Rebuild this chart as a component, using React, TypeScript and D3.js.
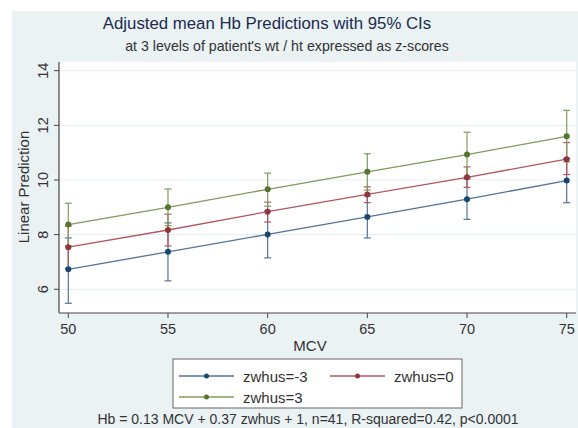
import React from "react";
import * as d3 from "d3";

const mcv = [50, 55, 60, 65, 70, 75];
const seriesNames = ["zwhus=-3", "zwhus=0", "zwhus=3"];
const meanNeg3 = [6.73, 7.37, 8.01, 8.65, 9.3, 9.98];
const lowNeg3 = [5.49, 6.31, 7.15, 7.88, 8.56, 9.17];
const highNeg3 = [7.88, 8.43, 8.87, 9.42, 10.04, 10.79];
const mean0 = [7.54, 8.17, 8.84, 9.47, 10.1, 10.76];
const low0 = [6.76, 7.59, 8.46, 9.17, 9.73, 10.2];
const high0 = [8.32, 8.75, 9.19, 9.75, 10.48, 11.37];
const mean3 = [8.37, 9.0, 9.66, 10.3, 10.93, 11.6];
const low3 = [7.59, 8.33, 9.04, 9.63, 10.1, 10.66];
const high3 = [9.15, 9.67, 10.25, 10.96, 11.75, 12.55];
const yTicks = [6, 8, 10, 12, 14];
const xTicks = [50, 55, 60, 65, 70, 75];

const markerColors = ["#1a476f", "#90353b", "#55752f"];
const lineColors = ["#52749a", "#b0585e", "#7f9c5e"];

const W = 578;
const H = 428;
const font = "'Liberation Sans', Arial, sans-serif";

export default function App() {
  const left = 59, right = 576, top = 62, bottom = 313;
  const x = d3.scaleLinear().domain([50, 75]).range([68.3, 566.7]);
  const y = d3.scaleLinear().domain([6, 14]).range([289.3, 70.7]);
  const series = [
    { mean: meanNeg3, low: lowNeg3, high: highNeg3 },
    { mean: mean0, low: low0, high: high0 },
    { mean: mean3, low: low3, high: high3 },
  ];
  const line = d3
    .line<number>()
    .x((_, i) => x(mcv[i]))
    .y((d) => y(d));

  return (
    <svg
      width={W}
      height={H}
      style={{ position: "absolute", left: 0, top: 0, display: "block" }}
      fontFamily={font}
    >
      <rect x={0} y={0} width={W} height={H} fill="#ffffff" />
      <rect x={12} y={11} width={W - 12} height={H - 11} fill="#eaf2f3" />
      <text x={267} y={29} textAnchor="middle" fontSize={16.8} fill="#1c2b4f">
        Adjusted mean Hb Predictions with 95% CIs
      </text>
      <text x={287} y={51} textAnchor="middle" fontSize={14.2} fill="#333333">
        at 3 levels of patient's wt / ht expressed as z-scores
      </text>
      <rect x={left} y={top} width={right - left} height={bottom - top} fill="#ffffff" />
      {yTicks.map((t) => (
        <g key={t}>
          <line x1={left} x2={right} y1={y(t)} y2={y(t)} stroke="#e6eff1" strokeWidth={1.2} />
          <line x1={left - 5} x2={left} y1={y(t)} y2={y(t)} stroke="#444" strokeWidth={1} />
          <text
            transform={`translate(${left - 11},${y(t)}) rotate(-90)`}
            textAnchor="middle"
            fontSize={14.5}
            fill="#333"
          >
            {t}
          </text>
        </g>
      ))}
      <line x1={left} x2={left} y1={top} y2={bottom} stroke="#444" strokeWidth={1.2} />
      <line x1={left} x2={right} y1={bottom} y2={bottom} stroke="#444" strokeWidth={1.2} />
      {xTicks.map((t) => (
        <g key={t}>
          <line x1={x(t)} x2={x(t)} y1={bottom} y2={bottom + 5} stroke="#444" strokeWidth={1} />
          <text x={x(t)} y={bottom + 21} textAnchor="middle" fontSize={14.5} fill="#333">
            {t}
          </text>
        </g>
      ))}
      <text x={310} y={351} textAnchor="middle" fontSize={15} fill="#333">
        MCV
      </text>
      <text
        transform={`translate(29,187) rotate(-90)`}
        textAnchor="middle"
        fontSize={15}
        fill="#333"
      >
        Linear Prediction
      </text>
      {series.map((s, si) => (
        <g key={si}>
          {s.mean.map((m, i) => (
            <g key={i} stroke={lineColors[si]} strokeWidth={1.2}>
              <line x1={x(mcv[i])} x2={x(mcv[i])} y1={y(s.low[i])} y2={y(s.high[i])} />
              <line x1={x(mcv[i]) - 3.5} x2={x(mcv[i]) + 3.5} y1={y(s.low[i])} y2={y(s.low[i])} />
              <line x1={x(mcv[i]) - 3.5} x2={x(mcv[i]) + 3.5} y1={y(s.high[i])} y2={y(s.high[i])} />
            </g>
          ))}
        </g>
      ))}
      {series.map((s, si) => (
        <g key={si}>
          <path d={line(s.mean) || ""} fill="none" stroke={lineColors[si]} strokeWidth={1.3} />
          {s.mean.map((m, i) => (
            <circle key={i} cx={x(mcv[i])} cy={y(m)} r={3} fill={markerColors[si]} />
          ))}
        </g>
      ))}
      <rect x={173} y={359} width={289} height={49} fill="#ffffff" stroke="#666" strokeWidth={1} />
      {seriesNames.map((name, i) => {
        const lx = i === 1 ? 330 : 179;
        const ly = i === 2 ? 397 : 376;
        return (
          <g key={name}>
            <line x1={lx} x2={lx + 55} y1={ly} y2={ly} stroke={lineColors[i]} strokeWidth={1.3} />
            <circle cx={lx + 27.5} cy={ly} r={2.5} fill={markerColors[i]} />
            <text x={lx + 64} y={ly + 5.5} fontSize={15} fill="#333">
              {name}
            </text>
          </g>
        );
      })}
      <text x={308} y={424} textAnchor="middle" fontSize={14} fill="#333">
        Hb = 0.13 MCV + 0.37 zwhus + 1, n=41,  R-squared=0.42, p&lt;0.0001
      </text>
    </svg>
  );
}
